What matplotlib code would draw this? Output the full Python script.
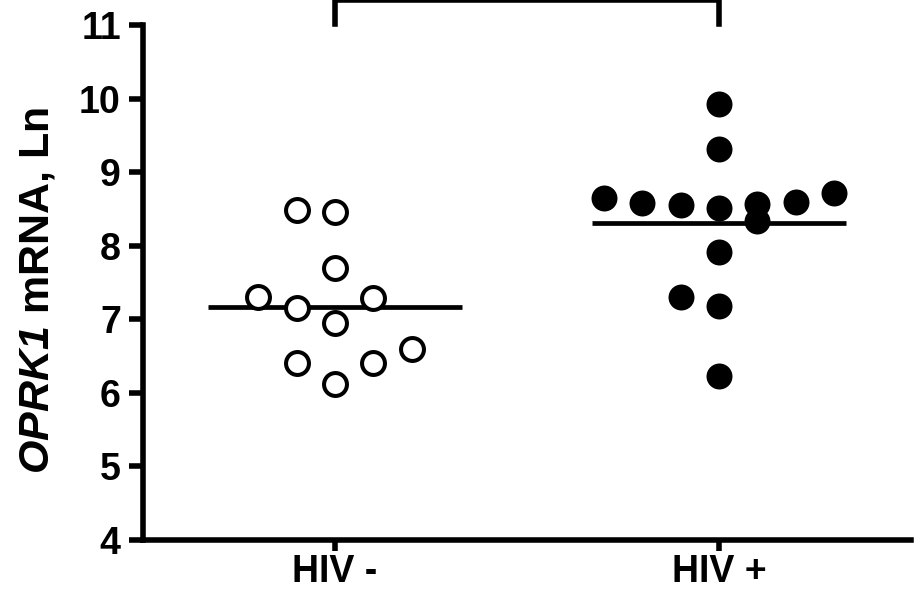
import numpy as np
import matplotlib
matplotlib.use("Agg")
import matplotlib.pyplot as plt
from matplotlib import font_manager

names = {f.name for f in font_manager.fontManager.ttflist}
NARROW = "Liberation Sans Narrow" if "Liberation Sans Narrow" in names else None
REG = "Liberation Sans"
LABEL_FONT = NARROW or REG
LABEL_SIZE = 38 if NARROW else 31

plt.rcParams["font.family"] = [REG, "DejaVu Sans"]
plt.rcParams["mathtext.fontset"] = "custom"
plt.rcParams["mathtext.it"] = f"{LABEL_FONT}:italic:bold"
plt.rcParams["mathtext.rm"] = f"{LABEL_FONT}:italic:bold"

# data
groups = ["HIV -", "HIV +"]
hiv_neg = [8.49, 8.46, 7.70, 7.30, 7.29, 7.15, 6.95, 6.41, 6.41, 6.60, 6.12]
hiv_neg_dx = [-0.1, 0.0, 0.0, -0.2, 0.1, -0.1, 0.0, -0.1, 0.1, 0.2, 0.0]
hiv_pos = [9.93, 9.32, 8.65, 8.58, 8.55, 8.51, 8.57, 8.34, 8.59, 8.72, 7.92, 7.30, 7.18, 6.23]
hiv_pos_dx = [0.0, 0.0, -0.3, -0.2, -0.1, 0.0, 0.1, 0.1, 0.2, 0.3, 0.0, -0.1, 0.0, 0.0]
yticks = [4, 5, 6, 7, 8, 9, 10, 11]

fig = plt.figure(figsize=(9.15, 5.96), dpi=100)
ax = fig.add_axes([143 / 915, 56 / 596, 768 / 915, 515 / 596])

ax.plot(np.array(hiv_neg_dx) + 0, hiv_neg, "o", ms=16.5, mfc="white",
        mec="black", mew=2.9, ls="none", zorder=3)
ax.plot(np.array(hiv_pos_dx) + 1, hiv_pos, "o", ms=18.7, mfc="black",
        mec="black", mew=0, ls="none", zorder=3)

for i, vals in enumerate([hiv_neg, hiv_pos]):
    ax.hlines(np.mean(vals), i - 0.33, i + 0.33, color="black", lw=3.4, zorder=2)

# significance bracket, cut by the top of the figure
ax.plot([0, 0, 1, 1], [11.01, 11.34, 11.34, 11.01], color="black", lw=4,
        clip_on=False, solid_joinstyle="miter")

ax.set_xlim(-0.5, 1.5)
ax.set_ylim(4, 11)
ax.set_xticks([0, 1])
ax.set_xticklabels(groups, fontsize=27, fontweight="bold", family=LABEL_FONT)
ax.set_yticks(yticks)
ax.set_yticklabels([str(t) for t in yticks], fontsize=27, fontweight="bold")

for s in ["top", "right"]:
    ax.spines[s].set_visible(False)
for s in ["left", "bottom"]:
    ax.spines[s].set_linewidth(4)
    ax.spines[s].set_capstyle("projecting")

ax.tick_params(axis="both", width=4, color="black")
ax.tick_params(axis="y", length=10, pad=6)
ax.tick_params(axis="x", length=8, pad=2)

ax.set_ylabel(r"$\mathit{OPRK1}$ mRNA, Ln", fontsize=LABEL_SIZE, fontweight="bold",
              family=LABEL_FONT)
ax.yaxis.set_label_coords(-0.111, 0.485)

fig.savefig("out.png", dpi=100)
